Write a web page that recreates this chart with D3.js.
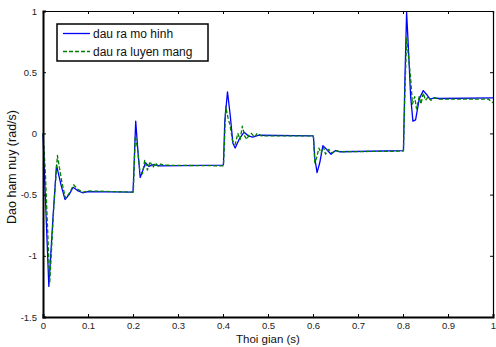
<!DOCTYPE html>
<html>
<head>
<meta charset="utf-8">
<script src="https://cdn.jsdelivr.net/npm/d3@7"></script>
<style>
  body { margin: 0; background: #fff; }
  svg { display: block; }
</style>
</head>
<body>
<svg id="chart"></svg>
<script>
// model output (blue, solid)
const tModel = [0, 0.004, 0.013, 0.022, 0.030, 0.040, 0.049, 0.058, 0.067, 0.078, 0.088, 0.100, 0.200,
  0.2015, 0.206, 0.211, 0.216, 0.222, 0.228, 0.235, 0.245, 0.260, 0.400,
  0.401, 0.404, 0.410, 0.416, 0.422, 0.427, 0.437, 0.447, 0.456, 0.466, 0.480, 0.600,
  0.601, 0.604, 0.609, 0.615, 0.622, 0.630, 0.640, 0.650, 0.660, 0.800,
  0.801, 0.804, 0.808, 0.812, 0.817, 0.822, 0.828, 0.836, 0.845, 0.852, 0.860, 0.870, 0.880, 1.000];
const yModel = [0, -0.40, -1.25, -0.70, -0.26, -0.42, -0.54, -0.50, -0.44, -0.47, -0.485, -0.475, -0.48,
  -0.35, 0.10, -0.15, -0.36, -0.30, -0.24, -0.27, -0.255, -0.265, -0.26,
  -0.25, 0.10, 0.34, 0.15, -0.08, -0.12, -0.04, 0.01, -0.02, -0.03, -0.015, -0.02,
  -0.03, -0.20, -0.32, -0.24, -0.10, -0.13, -0.17, -0.14, -0.15, -0.14,
  -0.14, 0.40, 0.99, 0.70, 0.30, 0.10, 0.11, 0.28, 0.35, 0.32, 0.28, 0.29, 0.285, 0.29];

// network output (green, dashed)
const tNet = [0, 0.005, 0.015, 0.024, 0.032, 0.042, 0.050, 0.060, 0.068, 0.078, 0.090, 0.100, 0.200,
  0.201, 0.205, 0.210, 0.215, 0.221, 0.226, 0.232, 0.238, 0.244, 0.250, 0.256, 0.262, 0.270, 0.400,
  0.401, 0.403, 0.406, 0.411, 0.416, 0.421, 0.427, 0.433, 0.438, 0.443, 0.448, 0.453, 0.458, 0.463, 0.470, 0.476, 0.485, 0.600,
  0.601, 0.604, 0.608, 0.613, 0.618, 0.623, 0.628, 0.635, 0.642, 0.650, 0.660, 0.800,
  0.801, 0.804, 0.808, 0.813, 0.817, 0.821, 0.826, 0.830, 0.836, 0.840, 0.845, 0.850, 0.856, 0.862, 0.870, 0.880, 0.990, 1.000];
const yNet = [0, -0.30, -1.22, -0.60, -0.18, -0.40, -0.53, -0.48, -0.42, -0.46, -0.48, -0.47, -0.48,
  -0.45, -0.02, -0.12, -0.30, -0.33, -0.22, -0.30, -0.23, -0.28, -0.24, -0.27, -0.25, -0.26, -0.265,
  -0.26, -0.10, 0.22, 0.13, 0.06, -0.06, -0.09, 0.00, -0.05, 0.06, -0.02, -0.05, -0.01, 0.00, -0.03, 0.00, -0.02, -0.02,
  -0.03, -0.24, -0.20, -0.12, -0.16, -0.11, -0.17, -0.13, -0.16, -0.14, -0.15, -0.145,
  -0.14, 0.30, 0.78, 0.60, 0.45, 0.24, 0.30, 0.20, 0.30, 0.24, 0.33, 0.27, 0.30, 0.27, 0.29, 0.28, 0.28, 0.25];

const xTicks = [0, 0.1, 0.2, 0.3, 0.4, 0.5, 0.6, 0.7, 0.8, 0.9, 1];
const yTicks = [-1.5, -1, -0.5, 0, 0.5, 1];
const seriesNames = ['dau ra mo hinh', 'dau ra luyen mang'];

const width = 496, height = 347;
const margin = {top: 11, right: 3, bottom: 30, left: 43};
const w = width - margin.left - margin.right;
const h = height - margin.top - margin.bottom;

const svg = d3.select('#chart').attr('width', width).attr('height', height);
const g = svg.append('g').attr('transform', 'translate(' + margin.left + ',' + margin.top + ')');

const x = d3.scaleLinear().domain([0, 1]).range([0, w]);
const y = d3.scaleLinear().domain([-1.5, 1]).range([h, 0]);

const fmt = d => String(d);

// lines first, then frame on top
const line = d3.line().x(d => x(d[0])).y(d => y(d[1]));
const modelPts = tModel.map((t, i) => [t, yModel[i]]);
const netPts = tNet.map((t, i) => [t, yNet[i]]);

g.append('path').datum(modelPts)
  .attr('fill', 'none').attr('stroke', '#0000ff').attr('stroke-width', 1.3)
  .attr('stroke-linejoin', 'round').attr('d', line);
g.append('path').datum(netPts)
  .attr('fill', 'none').attr('stroke', '#008000').attr('stroke-width', 1.3)
  .attr('stroke-dasharray', '4,2').attr('stroke-linejoin', 'round').attr('d', line);

// axes (ticks inward like matlab)
g.append('g').attr('class', 'axis')
  .attr('transform', 'translate(0,' + h + ')')
  .call(d3.axisBottom(x).tickValues(xTicks).tickFormat(fmt).tickSize(-3).tickPadding(5));
g.append('g').attr('class', 'axis')
  .call(d3.axisLeft(y).tickValues(yTicks).tickFormat(fmt).tickSize(-3).tickPadding(6));
g.append('g').attr('class', 'axis thin')
  .call(d3.axisTop(x).tickValues(xTicks).tickFormat('').tickSize(-3));
g.append('g').attr('class', 'axis thin')
  .attr('transform', 'translate(' + w + ',0)')
  .call(d3.axisRight(y).tickValues(yTicks).tickFormat('').tickSize(-3));

svg.selectAll('.axis path').attr('stroke', '#000').attr('stroke-width', 2);
svg.selectAll('.axis.thin path').attr('stroke-width', 1.2);
svg.selectAll('.axis line').attr('stroke', '#000').attr('stroke-width', 1);
svg.selectAll('.axis text')
  .attr('fill', '#222')
  .style('font', '9.5px "Liberation Sans", Arial, sans-serif');

// axis labels
svg.append('text')
  .attr('x', margin.left + w / 2).attr('y', 343)
  .attr('text-anchor', 'middle')
  .style('font', '11.5px "Liberation Sans", Arial, sans-serif')
  .attr('fill', '#111')
  .text('Thoi gian (s)');
svg.append('text')
  .attr('transform', 'translate(16,' + (margin.top + h / 2 + 3) + ') rotate(-90)')
  .attr('text-anchor', 'middle')
  .style('font', '12.5px "Liberation Sans", Arial, sans-serif')
  .attr('fill', '#111')
  .text('Dao ham nuy (rad/s)');

// legend
const lg = svg.append('g').attr('transform', 'translate(57,24)');
lg.append('rect').attr('width', 151).attr('height', 37)
  .attr('fill', '#fff').attr('stroke', '#000').attr('stroke-width', 1.5);
const legendColors = ['#0000ff', '#008000'];
seriesNames.forEach((name, i) => {
  const yy = 9.5 + i * 18;
  lg.append('line').attr('x1', 6).attr('x2', 33).attr('y1', yy).attr('y2', yy)
    .attr('stroke', legendColors[i]).attr('stroke-width', 1.3)
    .attr('stroke-dasharray', i === 1 ? '4,2' : null);
  lg.append('text').attr('x', 36).attr('y', yy + 4)
    .style('font', '12px "Liberation Sans", Arial, sans-serif')
    .attr('fill', '#111')
    .text(name);
});
</script>
</body>
</html>
